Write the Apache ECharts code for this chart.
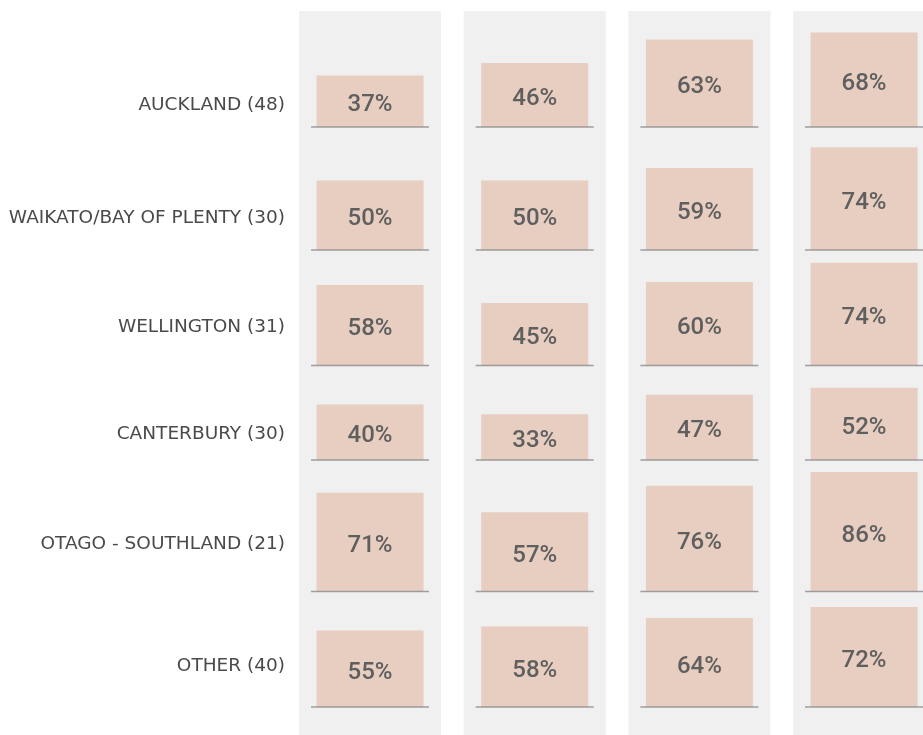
<!DOCTYPE html>
<html>
<head>
<meta charset="utf-8">
<script src="https://cdn.jsdelivr.net/npm/echarts@6/dist/echarts.min.js"></script>
<style>
  html, body { margin: 0; padding: 0; background: #ffffff; }
  #chart { width: 923px; height: 735px; }
</style>
</head>
<body>
<div id="chart"></div>
<script>
// regions (rows) and the four value columns
var regions = ['AUCKLAND (48)', 'WAIKATO/BAY OF PLENTY (30)', 'WELLINGTON (31)', 'CANTERBURY (30)', 'OTAGO - SOUTHLAND (21)', 'OTHER (40)'];
var columns = ['c1', 'c2', 'c3', 'c4'];
var col1 = [37, 50, 58, 40, 71, 55];
var col2 = [46, 50, 45, 33, 57, 58];
var col3 = [63, 59, 60, 47, 76, 64];
var col4 = [68, 74, 74, 52, 86, 72];

// layout: baseline y of each row and y of each row label
var baselines = [127, 250, 365.5, 460, 591.5, 707];
var labelMid = [104, 217, 326, 433, 543, 665];
var pxPerPct = 1.39;
var gridLeft = 287.7, gridWidth = 658.7;

var cols = [col1, col2, col3, col4];
var chart = echarts.init(document.getElementById('chart'));

var grids = [], xAxes = [], yAxes = [], series = [], titles = [];

// background columns
grids.push({ left: gridLeft, width: gridWidth, top: 11, bottom: 0, outerBoundsMode: 'none' });
xAxes.push({ type: 'category', data: columns, gridIndex: 0, show: false });
yAxes.push({ type: 'value', min: 0, max: 1, gridIndex: 0, show: false });
series.push({
    type: 'bar', xAxisIndex: 0, yAxisIndex: 0, barWidth: 142, silent: true,
    itemStyle: { color: '#f0f0f0' },
    data: columns.map(function () { return 1; })
});

regions.forEach(function (name, i) {
    var g = i + 1;
    grids.push({
        left: gridLeft, width: gridWidth, outerBoundsMode: 'none',
        top: baselines[i] - 100 * pxPerPct, height: 100 * pxPerPct
    });
    xAxes.push({ type: 'category', data: columns, gridIndex: g, show: false });
    yAxes.push({ type: 'value', min: 0, max: 100, gridIndex: g, show: false });
    var vals = cols.map(function (c) { return c[i]; });
    series.push({
        type: 'bar', xAxisIndex: g, yAxisIndex: g, barWidth: 107,
        itemStyle: { color: '#e7cec0' },
        label: {
            show: true, position: 'inside', offset: [0, 4],
            formatter: '{c}%', color: '#5f5f5f',
            fontFamily: 'Roboto', fontWeight: 500, fontSize: 24
        },
        data: vals
    });
    // baseline under each bar
    series.push({
        type: 'scatter', xAxisIndex: g, yAxisIndex: g, clip: false, silent: true,
        symbol: 'rect', symbolSize: [118, 1.6],
        itemStyle: { color: '#8a8a8a' },
        data: vals.map(function () { return 0; })
    });
    titles.push({
        text: name, right: 923 - 285, top: labelMid[i] - 8, padding: 0,
        textStyle: { fontFamily: 'DejaVu Sans', fontWeight: 'normal', fontSize: 18.5, color: '#4a4a4a' }
    });
});

chart.setOption({
    animation: false,
    title: titles,
    grid: grids,
    xAxis: xAxes,
    yAxis: yAxes,
    series: series
});
</script>
</body>
</html>
